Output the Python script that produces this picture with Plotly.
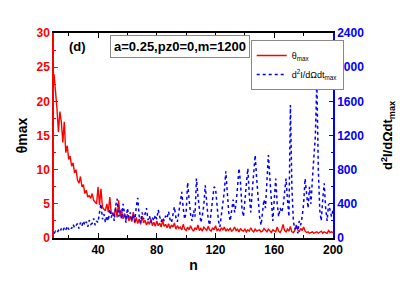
import plotly.graph_objects as go

n_values = list(range(10, 201))

theta_max = [
    24, 22, 19, 15.5, 18.5, 17, 14, 17, 12.5, 13.5,          # 10-19
    11.5, 12, 10.5, 11, 9.5, 10, 8.5, 8, 9, 7.5,             # 20-29
    7.8, 6.5, 7, 6, 6.2, 5.8, 6.5, 5.5, 5.2, 5,              # 30-39
    7.5, 4.8, 7.2, 4.5, 4.2, 4, 5, 3.8, 6, 3.6,              # 40-49
    3.5, 3.2, 4.5, 3, 5.5, 3.2, 4.2, 2.8, 3.6, 2.6,          # 50-59
    3.5, 2.5, 3.2, 2.4, 3.8, 2.2, 3, 2.1, 2.8, 2,            # 60-69
    3.2, 2.2, 2.6, 1.9, 2.4, 2, 2.8, 1.8, 2.3, 1.7,          # 70-79
    2.5, 1.8, 2.2, 1.6, 2.6, 1.7, 2.0, 1.5, 2.1, 1.4,        # 80-89
    1.9, 1.6, 2.2, 1.3, 1.8, 1.4, 1.6, 1.2, 2.0, 1.3,        # 90-99
    1.1, 1.6, 1.2, 1.8, 1.3, 1.0, 1.5, 1.2, 1.9, 1.1,        # 100-109
    1.4, 1.0, 1.6, 1.3, 1.1, 1.7, 1.2, 1.0, 1.5, 1.2,        # 110-119
    1.8, 1.1, 1.3, 1.0, 1.5, 1.2, 1.6, 1.0, 1.3, 1.1,        # 120-129
    1.4, 1.0, 1.2, 1.6, 1.1, 1.3, 0.9, 1.4, 1.1, 1.0,        # 130-139
    1.3, 0.9, 1.2, 1.0, 1.5, 1.1, 0.9, 1.3, 1.0, 1.1,        # 140-149
    1.2, 0.9, 1.0, 1.4, 1.1, 0.9, 1.3, 1.0, 0.8, 1.2,        # 150-159
    1.0, 0.9, 1.6, 1.0, 0.8, 1.2, 2.0, 1.1, 0.9, 1.3,        # 160-169
    1.0, 1.7, 0.9, 0.8, 1.1, 1.9, 1.2, 0.9, 1.4, 1.1,        # 170-179
    1.6, 1.0, 0.8, 0.9, 0.7, 0.8, 0.9, 0.7, 0.8, 0.9,        # 180-189
    0.7, 0.8, 1.0, 0.7, 0.9, 0.8, 0.7, 1.1, 0.8, 0.9,        # 190-199
    0.8,                                                       # 200
]

d2I_max = [
    50, 80, 60, 90, 70, 110, 80, 120, 90, 140,               # 10-19
    100, 130, 110, 160, 120, 150, 170, 110, 180, 140,        # 20-29
    200, 150, 190, 130, 210, 160, 170, 230, 150, 200,        # 30-39
    180, 300, 400, 220, 280, 180, 260, 200, 340, 240,        # 40-49
    300, 200, 380, 460, 250, 320, 220, 400, 280, 180,        # 50-59
    350, 240, 300, 200, 280, 190, 360, 470, 260, 180,        # 60-69
    300, 220, 280, 350, 210, 260, 180, 240, 200, 270,        # 70-79
    220, 330, 250, 190, 240, 200, 260, 230, 310, 220,        # 80-89
    180, 260, 365, 240, 190, 300, 420, 540, 350, 220,        # 90-99
    300, 650, 450, 280, 200, 320, 250, 695, 500, 300,        # 100-109
    180, 260, 380, 617, 400, 220, 150, 280, 450, 600,        # 110-119
    580, 350, 200, 130, 250, 420, 550, 780, 500, 300,        # 120-129
    200, 350, 450, 300, 400, 600, 815, 650, 350, 250,        # 130-139
    450, 600, 815, 500, 300, 550, 750, 970, 700, 400,        # 140-149
    250, 150, 300, 450, 350, 600, 970, 700, 400, 200,        # 150-159
    450, 695, 400, 250, 350, 300, 365, 500, 695, 450,        # 160-169
    250, 1556, 600, 200, 100, 150, 55, 200, 150, 250,        # 170-179
    400, 695, 500, 350, 600, 400, 700, 950, 1200, 1830,      # 180-189
    800, 325, 200, 450, 640, 350, 200, 400, 300, 250,        # 190-199
    330,                                                       # 200
]

x_ticks = [40, 80, 120, 160, 200]
left_ticks = [0, 5, 10, 15, 20, 25, 30]
right_ticks = [0, 400, 800, 1200, 1600, 2000, 2400]

FONT = "Arial, Liberation Sans, sans-serif"

fig = go.Figure()
fig.add_trace(go.Scatter(
    x=n_values, y=theta_max, mode="lines", name="θ<sub>max</sub>",
    line=dict(color="#ff0000", width=1.4), yaxis="y",
))
fig.add_trace(go.Scatter(
    x=n_values, y=d2I_max, mode="lines", name="d<sup>2</sup>I/dΩdt<sub>max</sub>",
    line=dict(color="#0000ff", width=1.5, dash="dot"), yaxis="y2",
))

fig.update_layout(
    width=409, height=286,
    margin=dict(l=54, r=76, t=33, b=48, autoexpand=False),
    paper_bgcolor="white", plot_bgcolor="white",
    font=dict(family=FONT, size=12, color="black"),
    showlegend=True,
    legend=dict(
        x=0.705, y=0.966, xanchor="left", yanchor="top",
        bgcolor="white", bordercolor="#888888", borderwidth=1,
        font=dict(family=FONT, size=9, color="black"),
        itemwidth=30, tracegroupgap=0,
    ),
    xaxis=dict(
        range=[10, 200], tickvals=x_ticks, ticktext=[str(v) for v in x_ticks],
        ticks="inside", ticklen=5, tickwidth=1.2, tickcolor="black",
        minor=dict(dtick=20, tick0=0, ticks="inside", ticklen=3, tickcolor="black"),
        showline=True, linecolor="black", linewidth=1.5, mirror="ticks",
        showgrid=False, zeroline=False, automargin=False,
        tickfont=dict(family=FONT, size=12, color="black", weight="bold"),
        title=dict(text="n", font=dict(family=FONT, size=14, color="black", weight="bold"), standoff=4),
    ),
    yaxis=dict(
        range=[0, 30], tickvals=left_ticks,
        ticks="inside", ticklen=4, tickwidth=1.2, tickcolor="red",
        minor=dict(dtick=2.5, ticks="inside", ticklen=2, tickcolor="red"),
        showline=True, linecolor="red", linewidth=1.5,
        showgrid=False, zeroline=False, automargin=False,
        tickfont=dict(family=FONT, size=12, color="red", weight="bold"),
        title=dict(text="θmax", font=dict(family=FONT, size=14, color="black", weight="bold"), standoff=6),
    ),
    yaxis2=dict(
        range=[0, 2400], tickvals=right_ticks, overlaying="y", side="right",
        ticks="inside", ticklen=4, tickwidth=1.2, tickcolor="blue",
        minor=dict(dtick=200, ticks="inside", ticklen=2, tickcolor="blue"),
        showline=True, linecolor="blue", linewidth=1.5,
        showgrid=False, zeroline=False, automargin=False,
        tickfont=dict(family=FONT, size=12, color="blue", weight="bold"),
        title=dict(text="d<sup>2</sup>I/dΩdt<sub>max</sub>", font=dict(family=FONT, size=13, color="black", weight="bold"), standoff=20),
    ),
    annotations=[
        dict(text="<b>(d)</b>", xref="paper", yref="paper", x=0.047, y=0.935,
             xanchor="left", yanchor="middle", showarrow=False,
             font=dict(family=FONT, size=13, color="black")),
        dict(text="<b>a=0.25,pz0=0,m=1200</b>", xref="paper", yref="paper", x=0.2, y=0.935,
             xanchor="left", yanchor="middle", showarrow=False,
             bordercolor="#888888", borderwidth=1, borderpad=3, bgcolor="white",
             font=dict(family=FONT, size=13, color="black")),
    ],
)

fig.write_html("out.html", config={"displayModeBar": False})

with open("out.html", "r", encoding="utf-8") as f:
    html = f.read()
html = html.replace("<head>", "<head><style>html,body{margin:0;padding:0;overflow:hidden;}</style>", 1)
with open("out.html", "w", encoding="utf-8") as f:
    f.write(html)
